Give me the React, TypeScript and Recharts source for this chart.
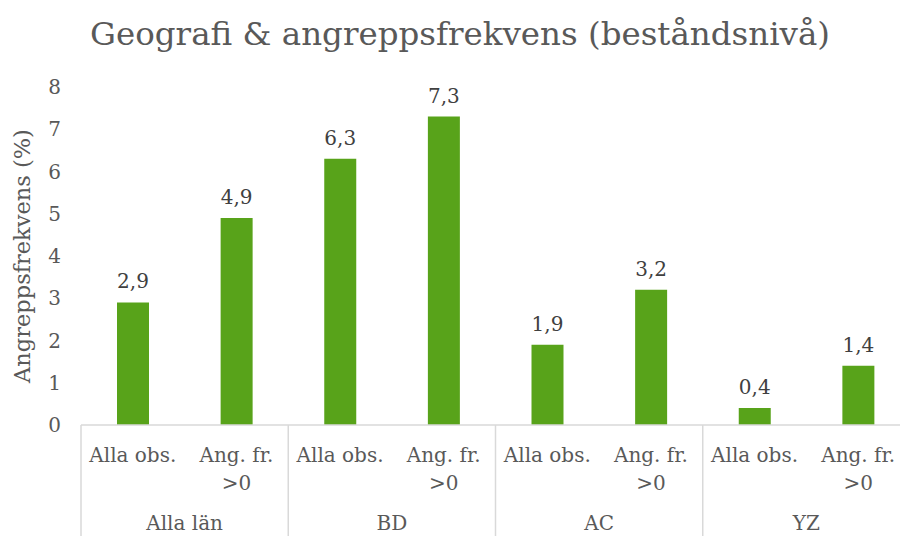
import { BarChart, Bar, XAxis, YAxis, LabelList } from 'recharts';

const groups = ['Alla län', 'BD', 'AC', 'YZ'];
const subLabels = ['Alla obs.', 'Ang. fr. >0'];
const values = [2.9, 4.9, 6.3, 7.3, 1.9, 3.2, 0.4, 1.4];
const yTicks = [0, 1, 2, 3, 4, 5, 6, 7, 8];

const data = values.map((v, i) => ({
  key: i,
  sub: subLabels[i % 2],
  group: groups[Math.floor(i / 2)],
  value: v,
}));

const FONT = '"DejaVu Serif", Georgia, serif';
const TEXT = '#595959';
const W = 920;
const H = 536;
const MARGIN = { top: 87, right: 10, left: 0, bottom: 0 };
const Y_W = 81;
const SLOT = (W - MARGIN.left - MARGIN.right - Y_W) / data.length;

const CategoryTick = (props: any) => {
  const { x, y, payload } = props;
  const d = data[payload.index];
  const lines = d.sub === 'Ang. fr. >0' ? ['Ang. fr.', '>0'] : [d.sub];
  return (
    <g>
      {lines.map((l, i) => (
        <text key={i} x={x} y={y + 37 + i * 28} textAnchor="middle" fill={TEXT} fontSize={20} fontFamily={FONT}>
          {l}
        </text>
      ))}
      {payload.index % 2 === 0 && (
        <line x1={x - SLOT / 2} x2={x - SLOT / 2} y1={y} y2={H} stroke="#d9d9d9" strokeWidth={1.5} />
      )}
      {payload.index % 2 === 1 && (
        <text x={x - SLOT / 2} y={y + 105} textAnchor="middle" fill={TEXT} fontSize={20} fontFamily={FONT}>
          {d.group}
        </text>
      )}
    </g>
  );
};

const ValueTick = (props: any) => {
  const { x, y, payload } = props;
  return (
    <text x={x - 20} y={y} textAnchor="end" dominantBaseline="central" fill={TEXT} fontSize={20} fontFamily={FONT}>
      {payload.value}
    </text>
  );
};

export default function App() {
  return (
    <div style={{ position: 'absolute', left: 0, top: 0, width: 900, height: 536, overflow: 'hidden', background: '#fff' }}>
      <svg width={W} height={60} style={{ position: 'absolute', left: 0, top: 0 }}>
        <text x={W / 2} y={45} textAnchor="middle" fill={TEXT} fontSize={32.5} fontFamily={FONT}>
          Geografi &amp; angreppsfrekvens (beståndsnivå)
        </text>
      </svg>
      <BarChart width={W} height={H} data={data} margin={MARGIN} barCategoryGap={0}>
        <XAxis
          dataKey="key"
          interval={0}
          height={H - 425}
          tick={<CategoryTick />}
          tickLine={false}
          tickSize={0}
          tickMargin={0}
          axisLine={{ stroke: '#d9d9d9', strokeWidth: 1.5 }}
        />
        <YAxis
          width={Y_W}
          domain={[0, 8]}
          ticks={yTicks}
          interval={0}
          tick={<ValueTick />}
          tickLine={false}
          tickSize={0}
          tickMargin={0}
          axisLine={false}
          label={{
            value: 'Angreppsfrekvens (%)',
            angle: -90,
            position: 'insideLeft',
            offset: 22,
            style: { textAnchor: 'middle', fill: TEXT, fontSize: 22.5, fontFamily: FONT },
          }}
        />
        <Bar dataKey="value" fill="#58a31a" barSize={32} isAnimationActive={false}>
          <LabelList
            dataKey="value"
            position="top"
            offset={14}
            formatter={(v: any) => Number(v).toFixed(1).replace('.', ',')}
            style={{ fill: '#404040', fontSize: 20, fontFamily: FONT }}
          />
        </Bar>
      </BarChart>
    </div>
  );
}
